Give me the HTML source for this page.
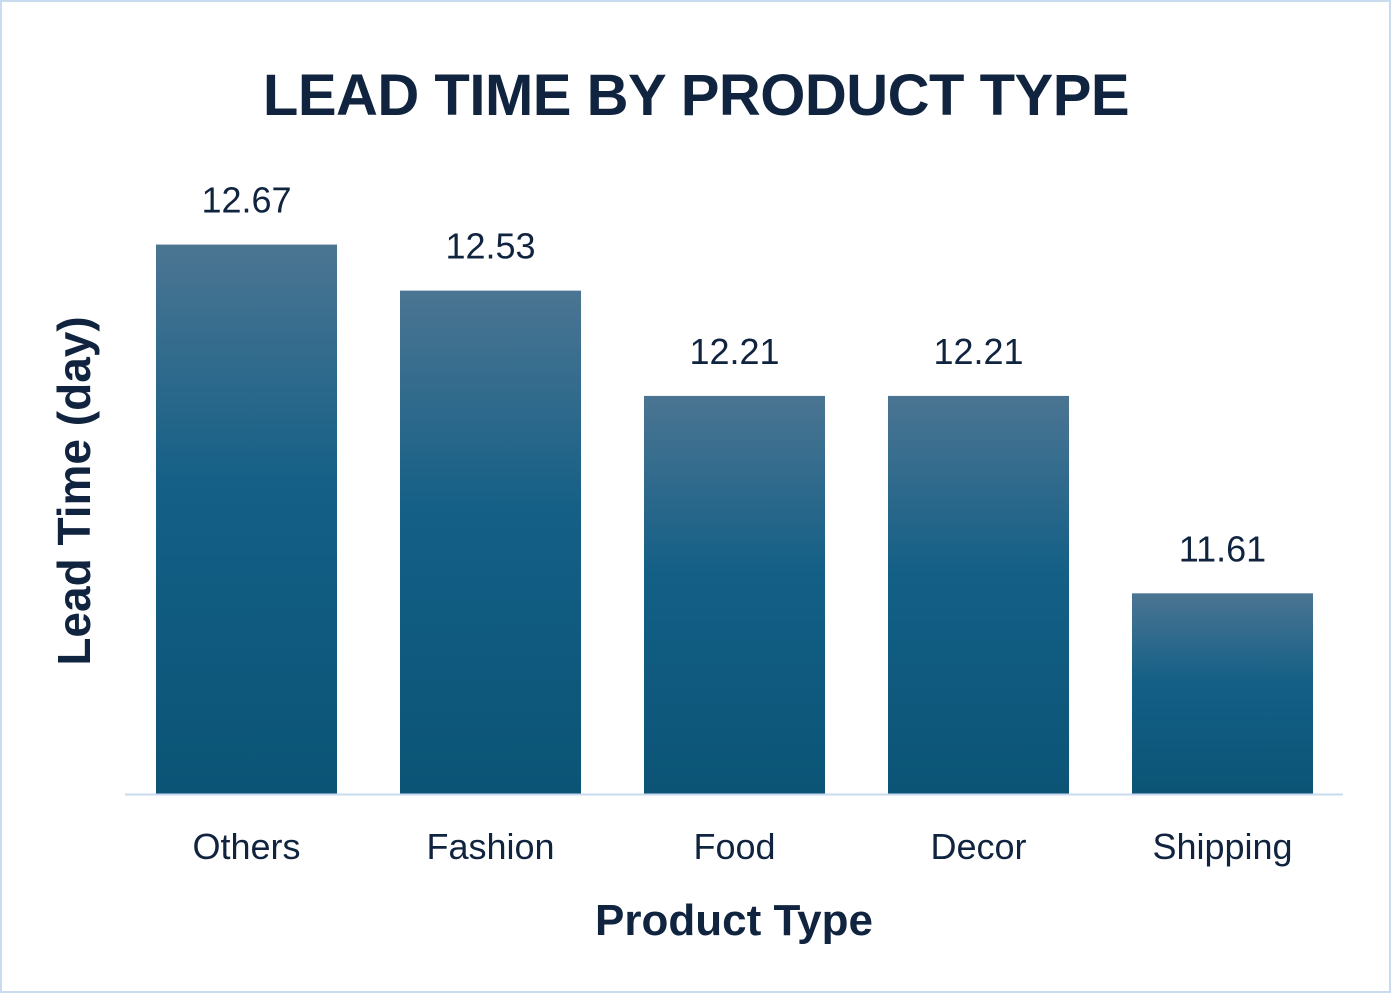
<!DOCTYPE html>
<html><head><meta charset="utf-8"><style>
html,body{margin:0;padding:0;background:#fff;}
#wrap{position:relative;width:1391px;height:993px;box-sizing:border-box;border:2px solid #c9dbee;background:#fff;}
svg text{font-family:"Liberation Sans",sans-serif;}
</style></head><body>
<div id="wrap">
<svg id="chart" width="1387" height="989" viewBox="2 2 1387 989">
<defs>
<linearGradient id="g" x1="0" y1="0" x2="0" y2="1">
<stop offset="0" stop-color="#4b7592"/>
<stop offset="0.45" stop-color="#135f86"/>
<stop offset="1" stop-color="#0b5476"/>
</linearGradient>
</defs>
<text x="696" y="115" text-anchor="middle" font-size="58" font-weight="bold" letter-spacing="-0.5" fill="#10243f">LEAD TIME BY PRODUCT TYPE</text>
<text transform="translate(90,491) rotate(-90)" text-anchor="middle" font-size="46" font-weight="bold" fill="#10243f">Lead Time (day)</text>
<text x="734" y="935" text-anchor="middle" font-size="44" font-weight="bold" fill="#10243f">Product Type</text>
<g id="bars"></g>
<line x1="125" y1="794.5" x2="1343" y2="794.5" stroke="#c9dbee" stroke-width="2"/>
</svg>
</div>
<script>
const categories = ["Others","Fashion","Food","Decor","Shipping"];
const values = [12.67,12.53,12.21,12.21,11.61];
const labels = ["12.67","12.53","12.21","12.21","11.61"];
const yMin = 11, baseY = 794, pxPerUnit = 329;
function y(v){ return baseY - (v - yMin) * pxPerUnit; }
function x(i){ return 156 + i * 244; }
const bw = 181;
const NS = "http://www.w3.org/2000/svg";
const g = document.getElementById('bars');
categories.forEach((c,i)=>{
  const r = document.createElementNS(NS,'rect');
  r.setAttribute('x', x(i)); r.setAttribute('y', y(values[i]));
  r.setAttribute('width', bw); r.setAttribute('height', baseY - y(values[i]));
  r.setAttribute('fill','url(#g)');
  
  
  g.appendChild(r);
  const t = document.createElementNS(NS,'text');
  t.setAttribute('x', x(i)+bw/2); t.setAttribute('y', y(values[i]) - 32);
  t.setAttribute('text-anchor','middle'); t.setAttribute('font-size','36'); t.setAttribute('fill','#10243f');
  t.textContent = labels[i];
  
  
  g.appendChild(t);
  const l = document.createElementNS(NS,'text');
  l.setAttribute('x', x(i)+bw/2); l.setAttribute('y', 859);
  l.setAttribute('text-anchor','middle'); l.setAttribute('font-size','36'); l.setAttribute('fill','#10243f');
  l.textContent = c;
  
  
  g.appendChild(l);
});
</script>
</body></html>
